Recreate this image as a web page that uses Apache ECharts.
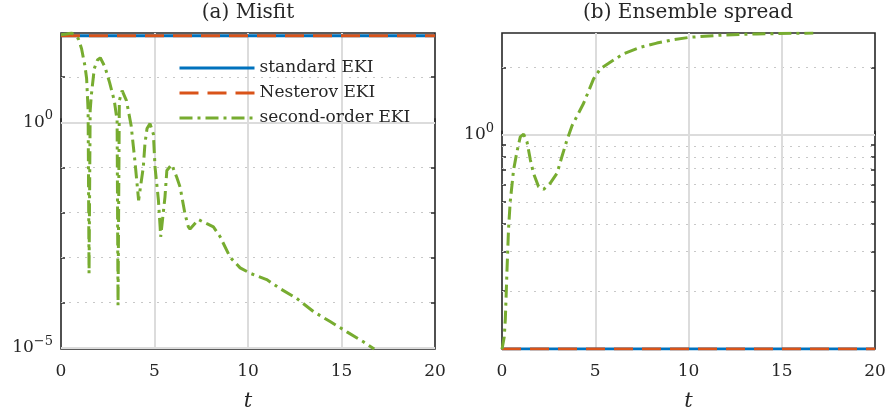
<!DOCTYPE html>
<html><head><meta charset="utf-8">
<script src="https://cdn.jsdelivr.net/npm/echarts@6/dist/echarts.min.js"></script>
<style>html,body{margin:0;padding:0;background:#fff}#c{width:889px;height:412px}</style>
</head><body><div id="c"></div>
<script>
// ---------- data ----------
const seriesNames = ['standard EKI', 'Nesterov EKI', 'second-order EKI'];
const titles = ['(a) Misfit', '(b) Ensemble spread'];
const xTicks = [0, 5, 10, 15, 20];

const tFlat = [0, 20];
const misfitStandard = [83.2, 83.2];
const misfitNesterov = [83.2, 83.2];
const tMisfit2 = [0, 0.3, 0.57, 0.93, 1.10, 1.28, 1.37, 1.45, 1.50, 1.56, 1.62, 1.78, 1.95, 2.1, 2.35, 2.6, 2.85, 3.0, 3.05, 3.12, 3.27, 3.5, 3.75, 3.95, 4.15, 4.40, 4.49, 4.6, 4.76, 4.94, 5.03, 5.21, 5.30, 5.33, 5.56, 5.66, 5.92, 6.19, 6.37, 6.63, 6.81, 6.90, 7.35, 7.80, 8.15, 8.51, 9.04, 9.58, 10.11, 11.0, 11.72, 12.61, 13.5, 14.39, 15.29, 16.17, 16.75];
const misfitSecond = [87.1, 91.2, 95.5, 70.8, 42.7, 17.8, 9.33, 1.82, 4.47e-4, 1.82, 3.89, 15.5, 24.0, 26.9, 17.0, 7.59, 3.02, 1.10, 8.71e-5, 3.02, 5.01, 3.02, 0.851, 0.141, 0.0186, 0.1, 0.339, 0.724, 0.933, 0.550, 0.1, 0.0186, 0.00479, 0.00288, 0.0219, 0.0851, 0.115, 0.0603, 0.0363, 0.00933, 0.00479, 0.00427, 0.00692, 0.00562, 0.00479, 0.00288, 0.00102, 5.89e-4, 4.47e-4, 3.24e-4, 2.04e-4, 1.23e-4, 6.31e-5, 3.80e-5, 2.24e-5, 1.35e-5, 9.33e-6];

const spreadStandard = [0.1104, 0.1104];
const spreadNesterov = [0.1104, 0.1104];
const tSpread2 = [0, 0.12, 0.18, 0.27, 0.35, 0.44, 0.62, 0.80, 0.98, 1.16, 1.34, 1.52, 1.69, 1.96, 2.23, 2.59, 2.95, 3.21, 3.48, 3.75, 4.37, 4.91, 5.27, 5.80, 6.51, 7.41, 8.30, 9.19, 10.09, 11.87, 13.66, 16.69];
const spreadSecond = [0.110, 0.125, 0.151, 0.251, 0.380, 0.501, 0.697, 0.839, 0.979, 1.007, 0.931, 0.773, 0.673, 0.587, 0.571, 0.608, 0.673, 0.798, 0.946, 1.096, 1.380, 1.778, 1.972, 2.109, 2.301, 2.460, 2.570, 2.661, 2.729, 2.793, 2.825, 2.851];

const misfitRange = [9.33e-6, 95.5];
const spreadRange = [0.1104, 2.851];
const misfitMajor = [1e-5, 1];
const misfitMinor = [1e-4, 1e-3, 1e-2, 1e-1, 10];
const spreadMajor = [1];
const spreadMinor = [0.2, 0.3, 0.4, 0.5, 0.6, 0.7, 0.8, 0.9, 2];
const misfitLabels = [1e-5, 1];
const spreadLabels = [1];

// ---------- styling ----------
const FONT = 'DejaVu Serif';
const INK = '#262626';
const GRIDC = '#dcdcdc';
const colors = ['#0072BD', '#D95319', '#77AC30'];
const L = Math.log10;

function pts(ts, vs) { return ts.map((t, i) => [t, L(vs[i])]); }
function supLabel(v) {
  const e = Math.round(v);
  const s = e < 0 ? '\u2212' + (-e) : String(e);
  return '{b|10}{s|' + s + '}';
}
const rich = {
  b: { fontFamily: FONT, fontSize: 17, color: INK, lineHeight: 26 },
  s: { fontFamily: FONT, fontSize: 13, color: INK, lineHeight: 14, verticalAlign: 'top' }
};

function yAxes(gi, range, major, minor, labels) {
  const ticks = major.concat(minor).map(L);
  const base = {
    type: 'value', gridIndex: gi, min: L(range[0]), max: L(range[1]),
    axisLine: { show: false }, splitLine: { show: false },
    axisTick: { show: true, inside: true, length: 4, customValues: ticks, lineStyle: { color: INK, width: 1.5 } }
  };
  return [
    Object.assign({}, base, { position: 'left',
      axisLabel: { show: true, margin: 8, customValues: labels.map(L), formatter: supLabel, rich: rich } }),
    Object.assign({}, base, { position: 'right', axisLabel: { show: false } })
  ];
}
function xAxis(gi) {
  return {
    type: 'value', gridIndex: gi, min: 0, max: 20, interval: 5,
    axisLine: { show: false }, splitLine: { show: false },
    axisTick: { show: true, inside: true, length: 4, lineStyle: { color: INK, width: 1.5 } },
    axisLabel: { margin: 14, fontFamily: FONT, fontSize: 17, color: INK },
    name: 't', nameLocation: 'middle', nameGap: 42,
    nameTextStyle: { fontFamily: FONT, fontStyle: 'italic', fontSize: 21, color: INK }
  };
}
function gridLineSeries(xi, yi, major, minor) {
  const data = [];
  major.forEach(v => data.push({ yAxis: L(v), lineStyle: { type: 'solid', width: 2, color: GRIDC } }));
  minor.forEach(v => data.push({ yAxis: L(v), lineStyle: { type: [2, 6], width: 1.2, color: '#c8c8c8' } }));
  xTicks.slice(1, -1).forEach(v => data.push({ xAxis: v, lineStyle: { type: 'solid', width: 2, color: GRIDC } }));
  return {
    type: 'line', xAxisIndex: xi, yAxisIndex: yi, data: [], silent: true, z: 1,
    markLine: { silent: true, symbol: ['none', 'none'], label: { show: false }, z: 1, animation: false, data: data }
  };
}
function lineSeries(k, xi, yi, ts, vs) {
  const types = ['solid', [19, 9], [13, 5, 3, 5]];
  return {
    name: seriesNames[k], type: 'line', xAxisIndex: xi, yAxisIndex: yi, z: 10 + k,
    data: pts(ts, vs), showSymbol: false, symbol: 'none', clip: true,
    lineStyle: { color: colors[k], width: 3, type: types[k] }, itemStyle: { color: colors[k] }
  };
}

const grids = [
  { left: 61, top: 33, width: 374, height: 316 },
  { left: 502, top: 33, width: 373, height: 316 }
].map(g => Object.assign(g, { show: true, containLabel: false, outerBoundsMode: 'none',
  borderColor: INK, borderWidth: 1.6, backgroundColor: '#fff' }));

const chart = echarts.init(document.getElementById('c'), null, { renderer: 'canvas' });
chart.setOption({
  animation: false,
  backgroundColor: '#fff',
  title: [
    { text: titles[0], left: 248, top: 3, textAlign: 'center', padding: 0,
      textStyle: { fontFamily: FONT, fontSize: 20, fontWeight: 'normal', color: INK } },
    { text: titles[1], left: 688, top: 3, textAlign: 'center', padding: 0,
      textStyle: { fontFamily: FONT, fontSize: 20, fontWeight: 'normal', color: INK } }
  ],
  legend: {
    orient: 'vertical', left: 178, top: 58, padding: 0, itemGap: 5,
    itemWidth: 75, itemHeight: 14, selectedMode: false,
    data: seriesNames,
    itemStyle: { opacity: 0 },
    lineStyle: { width: 3 },
    textStyle: { fontFamily: FONT, fontSize: 17, color: INK, lineHeight: 20 }
  },
  grid: grids,
  xAxis: [xAxis(0), xAxis(1)],
  yAxis: yAxes(0, misfitRange, misfitMajor, misfitMinor, misfitLabels)
    .concat(yAxes(1, spreadRange, spreadMajor, spreadMinor, spreadLabels)),
  series: [
    gridLineSeries(0, 0, misfitMajor, misfitMinor),
    gridLineSeries(1, 2, spreadMajor, spreadMinor),
    lineSeries(0, 0, 0, tFlat, misfitStandard),
    lineSeries(1, 0, 0, tFlat, misfitNesterov),
    lineSeries(2, 0, 0, tMisfit2, misfitSecond),
    lineSeries(0, 1, 2, tFlat, spreadStandard),
    lineSeries(1, 1, 2, tFlat, spreadNesterov),
    lineSeries(2, 1, 2, tSpread2, spreadSecond)
  ]
});
</script>
</body></html>
